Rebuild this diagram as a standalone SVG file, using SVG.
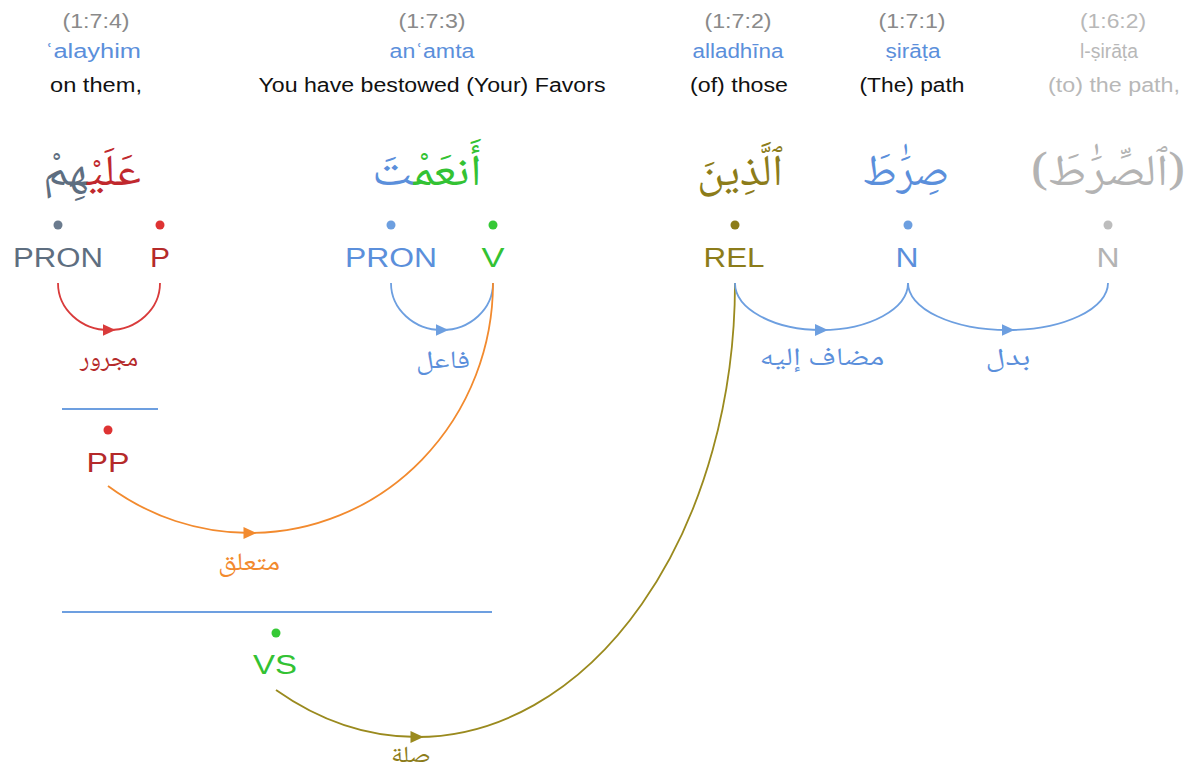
<svg xmlns="http://www.w3.org/2000/svg" width="1190" height="776" viewBox="0 0 1190 776">
<defs>
<style>
.loc{font-family:"Liberation Sans",Arial,sans-serif;font-size:20px;fill:#8a8a8a;text-anchor:middle}
.tr{font-family:"Liberation Sans",Arial,sans-serif;font-size:20px;fill:#5b8fdb;text-anchor:middle}
.en{font-family:"Liberation Sans",Arial,sans-serif;font-size:20px;fill:#111;text-anchor:middle}
.ar{font-family:"Noto Naskh Arabic","Amiri","Scheherazade New","DejaVu Sans",serif;font-size:44px;text-anchor:middle}
.tag{font-family:"Liberation Sans",Arial,sans-serif;font-size:27px;text-anchor:middle}
.lab{font-family:"Noto Naskh Arabic","Amiri","DejaVu Sans",serif;font-size:25px;text-anchor:middle}
.arc{fill:none;stroke-width:1.8}
.ph{stroke:#6d9fe0;stroke-width:2}
</style>
<marker id="mRed" viewBox="0 0 13 12" refX="6.5" refY="6" markerWidth="13" markerHeight="12" markerUnits="userSpaceOnUse" orient="auto"><path d="M0,0 L13,6 L0,12 Z" fill="#d93b3b"/></marker>
<marker id="mBlue" viewBox="0 0 13 12" refX="6.5" refY="6" markerWidth="13" markerHeight="12" markerUnits="userSpaceOnUse" orient="auto"><path d="M0,0 L13,6 L0,12 Z" fill="#6d9fe0"/></marker>
<marker id="mOrange" viewBox="0 0 13 12" refX="6.5" refY="6" markerWidth="13" markerHeight="12" markerUnits="userSpaceOnUse" orient="auto"><path d="M0,0 L13,6 L0,12 Z" fill="#f28a2e"/></marker>
<marker id="mOlive" viewBox="0 0 13 12" refX="6.5" refY="6" markerWidth="13" markerHeight="12" markerUnits="userSpaceOnUse" orient="auto"><path d="M0,0 L13,6 L0,12 Z" fill="#9a8a1e"/></marker>
</defs>
<rect width="1190" height="776" fill="#fff"/>

<g id="word-1-7-4">
<text class="loc" x="96" y="28" textLength="67" lengthAdjust="spacingAndGlyphs">(1:7:4)</text>
<text class="tr" x="93" y="58" textLength="96" lengthAdjust="spacingAndGlyphs">ʿalayhim</text>
<text class="en" x="96" y="92" textLength="92" lengthAdjust="spacingAndGlyphs">on them,</text>
<text class="ar" x="92" y="185" textLength="98" lengthAdjust="spacingAndGlyphs"><tspan fill="#c0282d">عَلَيْ</tspan><tspan fill="#5e6e80">هِمْ</tspan></text>
</g>
<g id="word-1-7-3">
<text class="loc" x="432" y="28" textLength="67" lengthAdjust="spacingAndGlyphs">(1:7:3)</text>
<text class="tr" x="432" y="58" textLength="85" lengthAdjust="spacingAndGlyphs">anʿamta</text>
<text class="en" x="432" y="92" textLength="347" lengthAdjust="spacingAndGlyphs">You have bestowed (Your) Favors</text>
<text class="ar" x="427" y="185" textLength="110" lengthAdjust="spacingAndGlyphs"><tspan fill="#33c233">أَنعَمْ</tspan><tspan fill="#5b8fdb">تَ</tspan></text>
</g>
<g id="word-1-7-2">
<text class="loc" x="738" y="28" textLength="67" lengthAdjust="spacingAndGlyphs">(1:7:2)</text>
<text class="tr" x="738" y="58" textLength="91" lengthAdjust="spacingAndGlyphs">alladhīna</text>
<text class="en" x="739" y="92" textLength="98" lengthAdjust="spacingAndGlyphs">(of) those</text>
<text class="ar" x="740" y="185" fill="#8c7c1a" textLength="86" lengthAdjust="spacingAndGlyphs">ٱلَّذِينَ</text>
</g>
<g id="word-1-7-1">
<text class="loc" x="912" y="28" textLength="67" lengthAdjust="spacingAndGlyphs">(1:7:1)</text>
<text class="tr" x="913" y="58" textLength="55" lengthAdjust="spacingAndGlyphs">ṣirāṭa</text>
<text class="en" x="912" y="92" textLength="105" lengthAdjust="spacingAndGlyphs">(The) path</text>
<text class="ar" x="906" y="185" fill="#5b8fdb" textLength="87" lengthAdjust="spacingAndGlyphs">صِرَٰطَ</text>
</g>
<g id="word-1-6-2">
<text class="loc" x="1113" y="28" style="fill:#b8b8b8" textLength="66" lengthAdjust="spacingAndGlyphs">(1:6:2)</text>
<text class="tr" x="1109" y="58" style="fill:#b8b8b8" textLength="58" lengthAdjust="spacingAndGlyphs">l-ṣirāṭa</text>
<text class="en" x="1114" y="92" style="fill:#b8b8b8" textLength="132" lengthAdjust="spacingAndGlyphs">(to) the path,</text>
<text class="ar" x="1108" y="185" fill="#b3b3b3" textLength="155" lengthAdjust="spacingAndGlyphs">(ٱلصِّرَٰطَ)</text>
</g>

<g id="node-pron1">
<circle cx="58" cy="225" r="4.5" fill="#6b7b8e"/>
<text class="tag" x="58" y="267" fill="#5e6e80" textLength="90" lengthAdjust="spacingAndGlyphs">PRON</text>
</g>
<g id="node-p">
<circle cx="160" cy="225" r="4.5" fill="#de3333"/>
<text class="tag" x="160" y="267" fill="#b52a2a" textLength="20" lengthAdjust="spacingAndGlyphs">P</text>
</g>
<g id="node-pron2">
<circle cx="391" cy="225" r="4.5" fill="#6d9fe0"/>
<text class="tag" x="391" y="267" fill="#5b8fdb" textLength="92" lengthAdjust="spacingAndGlyphs">PRON</text>
</g>
<g id="node-v">
<circle cx="493" cy="225" r="4.5" fill="#36c936"/>
<text class="tag" x="493" y="267" fill="#33c233" textLength="23" lengthAdjust="spacingAndGlyphs">V</text>
</g>
<g id="node-rel">
<circle cx="735" cy="225" r="4.5" fill="#8c7c1a"/>
<text class="tag" x="734" y="267" fill="#8c7c1a" textLength="61" lengthAdjust="spacingAndGlyphs">REL</text>
</g>
<g id="node-n1">
<circle cx="908" cy="225" r="4.5" fill="#6d9fe0"/>
<text class="tag" x="907" y="267" fill="#5b8fdb" textLength="23" lengthAdjust="spacingAndGlyphs">N</text>
</g>
<g id="node-n2">
<circle cx="1108" cy="225" r="4.5" fill="#bdbdbd"/>
<text class="tag" x="1108" y="267" fill="#b3b3b3" textLength="23" lengthAdjust="spacingAndGlyphs">N</text>
</g>
<g id="node-pp">
<line class="ph" x1="62" y1="409" x2="158" y2="409"/>
<circle cx="108" cy="430" r="4.5" fill="#de3333"/>
<text class="tag" x="108" y="472" fill="#b52a2a" textLength="43" lengthAdjust="spacingAndGlyphs">PP</text>
</g>
<g id="node-vs">
<line class="ph" x1="62" y1="612" x2="492" y2="612"/>
<circle cx="276" cy="633" r="4.5" fill="#36c936"/>
<text class="tag" x="275" y="674" fill="#33c233" textLength="44" lengthAdjust="spacingAndGlyphs">VS</text>
</g>

<g id="connectors">
<path class="arc" stroke="#d93b3b" marker-mid="url(#mRed)" d="M58,283 A51,47 0 0 0 109,330 A51,47 0 0 0 160,283"/>
<text class="lab" x="109" y="366" fill="#b52a2a" textLength="58" lengthAdjust="spacingAndGlyphs">مجرور</text>
<path class="arc" stroke="#6d9fe0" marker-mid="url(#mBlue)" d="M391,283 A51,47 0 0 0 442,330 A51,47 0 0 0 493,283"/>
<text class="lab" x="443" y="368" fill="#5b8fdb" textLength="54" lengthAdjust="spacingAndGlyphs">فاعل</text>
<path class="arc" stroke="#f28a2e" marker-mid="url(#mOrange)" d="M108,486 A243,250 0 0 0 250,533 A243,250 0 0 0 493,283"/>
<text class="lab" x="249" y="570" fill="#f28a2e" textLength="62" lengthAdjust="spacingAndGlyphs">متعلق</text>
<path class="arc" stroke="#9a8a1e" marker-mid="url(#mOlive)" d="M276,690 A318,454 0 0 0 417,737 A318,454 0 0 0 735,283"/>
<text class="lab" x="411" y="762" fill="#8c7c1a" style="font-size:23px" textLength="40" lengthAdjust="spacingAndGlyphs">صلة</text>
<path class="arc" stroke="#6d9fe0" marker-mid="url(#mBlue)" d="M735,283 A86.5,47 0 0 0 821.5,330 A86.5,47 0 0 0 908,283"/>
<text class="lab" x="822" y="365" fill="#5b8fdb" textLength="125" lengthAdjust="spacingAndGlyphs">مضاف إليه</text>
<path class="arc" stroke="#6d9fe0" marker-mid="url(#mBlue)" d="M908,283 A100,47 0 0 0 1008,330 A100,47 0 0 0 1108,283"/>
<text class="lab" x="1008" y="365" fill="#5b8fdb" textLength="45" lengthAdjust="spacingAndGlyphs">بدل</text>
</g>
</svg>
